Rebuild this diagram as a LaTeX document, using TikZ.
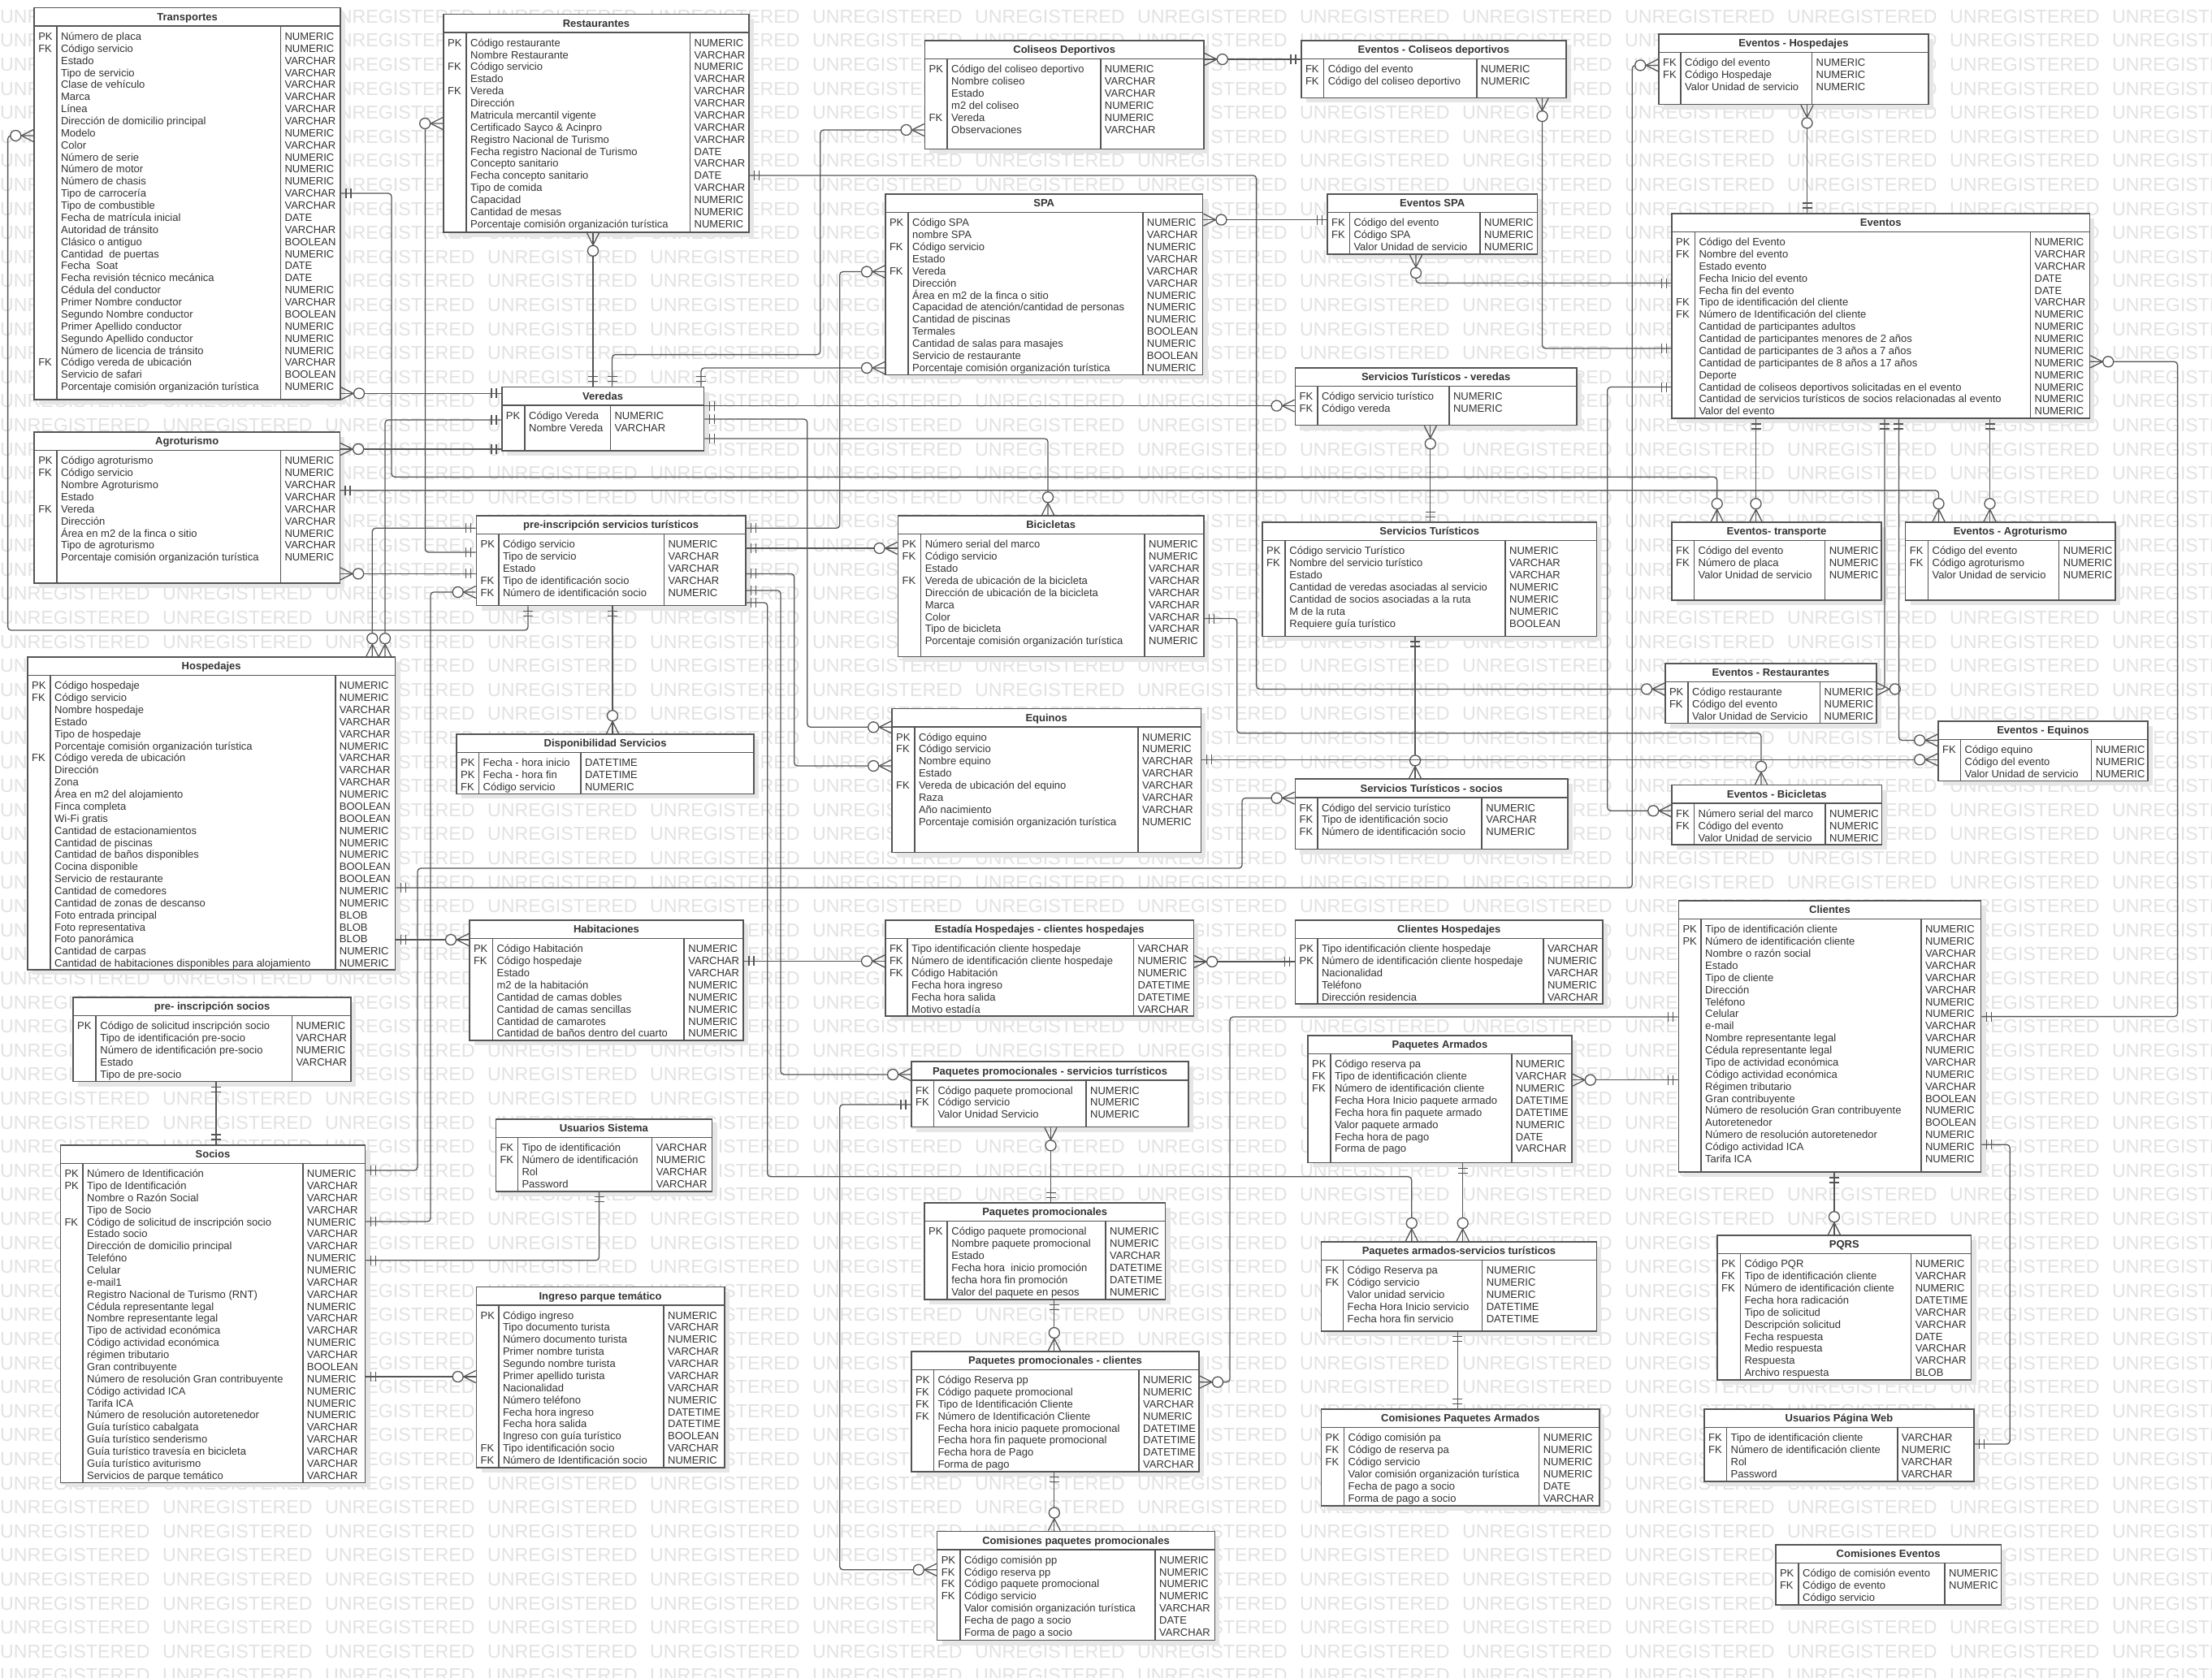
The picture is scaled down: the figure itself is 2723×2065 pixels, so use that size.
\documentclass[tikz,border=0pt]{standalone}
\usepackage{fontspec}
\setmainfont{Liberation Sans}
\usepackage{tikz}
\usetikzlibrary{fit}

\definecolor{erink}{HTML}{333333}
\definecolor{erdraw}{HTML}{555555}
\definecolor{ershade}{HTML}{E6E6E6}
\definecolor{erwater}{HTML}{E2E2E2}

% crow's foot ends
\pgfarrowsdeclare{zmany}{zmany}
{\pgfarrowsleftextend{-30pt}\pgfarrowsrightextend{0pt}}
{%
  \pgfsetdash{}{0pt}\pgfsetroundjoin
  \pgfpathmoveto{\pgfpoint{0pt}{7.5pt}}%
  \pgfpathlineto{\pgfpoint{-15pt}{0pt}}%
  \pgfpathlineto{\pgfpoint{0pt}{-7.5pt}}%
  \pgfusepathqstroke
  \pgfpathcircle{\pgfpoint{-22pt}{0pt}}{6.5pt}%
  \pgfsetfillcolor{white}%
  \pgfusepathqfillstroke
}
\pgfarrowsdeclare{zone}{zone}
{\pgfarrowsleftextend{-13pt}\pgfarrowsrightextend{0pt}}
{%
  \pgfsetdash{}{0pt}\pgfsetbuttcap
  \pgfpathmoveto{\pgfpoint{-6pt}{6pt}}\pgfpathlineto{\pgfpoint{-6pt}{-6pt}}%
  \pgfpathmoveto{\pgfpoint{-12pt}{6pt}}\pgfpathlineto{\pgfpoint{-12pt}{-6pt}}%
  \pgfusepathqstroke
}

\tikzset{
  erbox/.style={draw=erdraw, line width=1.6pt, fill=white, inner sep=0pt},
  erdiv/.style={draw=erdraw, line width=1.6pt},
  ertitle/.style={anchor=base, text=erink, inner sep=0pt, font={\fontsize{13}{15}\selectfont\bfseries}},
  ercell/.style={anchor=base west, text=erink, inner sep=0pt},
  conn/.style={draw=erdraw, line width=1.3pt, rounded corners=4pt},
  wmark/.style={anchor=west, text=erwater, inner sep=0pt, font={\fontsize{23.2}{24}\selectfont}},
}

% #1 name, #2 left, #3 top, #4 right, #5 bottom, #6 key column, #7 type column, #8 title, #9 rows
\newcommand{\erent}[9]{%
  \fill[ershade] ({#2+6},{#3+6}) rectangle ({#4+6},{#5+6});
  \node[erbox, fit={(#2,#3) (#4,#5)}] (#1) {};
  \node[ertitle] at ({(#2+#4)/2},{#3+15.9}) {#8};
  \draw[erdiv] (#2,{#3+22.6}) -- (#4,{#3+22.6});
  \draw[erdiv] (#6,{#3+22.6}) -- (#6,#5);
  \draw[erdiv] (#7,{#3+22.6}) -- (#7,#5);
  \foreach \cK/\cN/\cT [count=\i from 0] in {#9}{%
    \node[ercell] at ({#2+5},{#3+39.8+14.87*\i}) {\cK};
    \node[ercell] at ({#6+5},{#3+39.8+14.87*\i}) {\cN};
    \node[ercell] at ({#7+5},{#3+39.8+14.87*\i}) {\cT};
  }%
}

\begin{document}
\begin{tikzpicture}[x=1pt, y=-1pt, every node/.style={font=\fontsize{13}{15}\selectfont}]
\useasboundingbox (0,0) rectangle (2723,2065);
\fill[white] (0,0) rectangle (2723,2065);
\foreach \r in {0,...,69}{\foreach \c in {0,...,13}{\node[wmark] at ({\c*200},{20.4+\r*29.6}) {UNREGISTERED};}}

%%%%%%%%%%%%%%%%%%%%%%%%%%%%%%%%%%%%%%%%%%%%%%%%%%%%%%%%%%%%%%%%%%%%%%%
\erent{trans}{42.1}{9.6}{419.2}{492}{69.9}{345.4}{Transportes}{
PK/Número de placa/NUMERIC, FK/Código servicio/NUMERIC, /Estado/VARCHAR, /Tipo de servicio/VARCHAR,
/Clase de vehículo/VARCHAR, /Marca/VARCHAR, /Línea/VARCHAR, /Dirección de domicilio principal/VARCHAR,
/Modelo/NUMERIC, /Color/VARCHAR, /Número de serie/NUMERIC, /Número de motor/NUMERIC,
/Número de chasis/NUMERIC, /Tipo de carrocería/VARCHAR, /Tipo de combustible/VARCHAR,
/Fecha de matrícula inicial/DATE, /Autoridad de tránsito/VARCHAR, /Clásico o antiguo/BOOLEAN,
/Cantidad\ \ de puertas/NUMERIC, /Fecha\ \ Soat/DATE, /Fecha revisión técnico mecánica/DATE,
/Cédula del conductor/NUMERIC, /Primer Nombre conductor/VARCHAR, /Segundo Nombre conductor/BOOLEAN,
/Primer Apellido conductor/NUMERIC, /Segundo Apellido conductor/NUMERIC,
/Número de licencia de tránsito/NUMERIC, FK/Código vereda de ubicación/VARCHAR,
/Servicio de safari/BOOLEAN, /Porcentaje comisión organización turística/NUMERIC}
\erent{rest}{546}{17.4}{922}{286}{574}{849.5}{Restaurantes}{
PK/Código restaurante/NUMERIC, /Nombre Restaurante/VARCHAR, FK/Código servicio/NUMERIC, /Estado/VARCHAR,
FK/Vereda/VARCHAR, /Dirección/VARCHAR, /Matricula mercantil vigente/VARCHAR,
/Certificado Sayco \& Acinpro/VARCHAR, /Registro Nacional de Turismo/VARCHAR,
/Fecha registro Nacional de Turismo/DATE, /Concepto sanitario/VARCHAR, /Fecha concepto sanitario/DATE,
/Tipo de comida/VARCHAR, /Capacidad/NUMERIC, /Cantidad de mesas/NUMERIC,
/Porcentaje comisión organización turística/NUMERIC}
\erent{colis}{1138.4}{50}{1482}{183.3}{1166}{1354.7}{Coliseos Deportivos}{
PK/Código del coliseo deportivo/NUMERIC, /Nombre coliseo/VARCHAR, /Estado/VARCHAR,
/m2 del coliseo/NUMERIC, FK/Vereda/NUMERIC, /Observaciones/VARCHAR}
\erent{evcol}{1601.8}{50}{1928}{120.3}{1629.6}{1817.7}{Eventos - Coliseos deportivos}{
FK/Código del evento/NUMERIC, FK/Código del coliseo deportivo/NUMERIC}
\erent{evhos}{2042}{41.7}{2374}{128.6}{2069}{2230.5}{Eventos - Hospedajes}{
FK/Código del evento/NUMERIC, FK/Código Hospedaje/NUMERIC, /Valor Unidad de servicio/NUMERIC}
\erent{spa}{1089.8}{239}{1480.6}{461.3}{1118}{1406.7}{SPA}{
PK/Código SPA/NUMERIC, /nombre SPA/VARCHAR, FK/Código servicio/NUMERIC, /Estado/VARCHAR,
FK/Vereda/VARCHAR, /Dirección/VARCHAR, /Área en m2 de la finca o sitio/NUMERIC,
/{Capacidad de atención/cantidad de personas}/NUMERIC, /Cantidad de piscinas/NUMERIC,
/Termales/BOOLEAN, /Cantidad de salas para masajes/NUMERIC, /Servicio de restaurante/BOOLEAN,
/Porcentaje comisión organización turística/NUMERIC}
\erent{evspa}{1634}{239}{1892.4}{313.2}{1661.3}{1822}{Eventos SPA}{
FK/Código del evento/NUMERIC, FK/Código SPA/NUMERIC, /Valor Unidad de servicio/NUMERIC}
\erent{eventos}{2058}{262.8}{2572.4}{515.2}{2086.3}{2499.4}{Eventos}{
PK/Código del Evento/NUMERIC, FK/Nombre del evento/VARCHAR, /Estado evento/VARCHAR,
/Fecha Inicio del evento/DATE, /Fecha fin del evento/DATE, FK/Tipo de identificación del cliente/VARCHAR,
FK/Número de Identificación del cliente/NUMERIC, /Cantidad de participantes adultos/NUMERIC,
/Cantidad de participantes menores de 2 años/NUMERIC, /Cantidad de participantes de 3 años a 7 años/NUMERIC,
/Cantidad de participantes de 8 años a 17 años/NUMERIC, /Deporte/NUMERIC,
/Cantidad de coliseos deportivos solicitadas en el evento/NUMERIC,
/Cantidad de servicios turísticos de socios relacionadas al evento/NUMERIC, /Valor del evento/NUMERIC}
\erent{veredas}{617.7}{476.5}{866.5}{555.2}{646}{751.4}{Veredas}{
PK/Código Vereda/NUMERIC, /Nombre Vereda/VARCHAR}
\erent{stver}{1594.4}{453}{1941}{523.5}{1621.8}{1783.8}{Servicios Turísticos - veredas}{
FK/Código servicio turístico/NUMERIC, FK/Código vereda/NUMERIC}
\erent{agro}{42.1}{532}{418.3}{717.7}{69.9}{345.4}{Agroturismo}{
PK/Código agroturismo/NUMERIC, FK/Código servicio/NUMERIC, /Nombre Agroturismo/VARCHAR,
/Estado/VARCHAR, FK/Vereda/VARCHAR, /Dirección/VARCHAR, /Área en m2 de la finca o sitio/NUMERIC,
/Tipo de agroturismo/VARCHAR, /Porcentaje comisión organización turística/NUMERIC}
\erent{preserv}{586.5}{635}{917.8}{745.5}{613.8}{817.4}{pre-inscripción servicios turísticos}{
PK/Código servicio/NUMERIC, /Tipo de servicio/VARCHAR, /Estado/VARCHAR,
FK/Tipo de identificación socio/VARCHAR, FK/Número de identificación socio/NUMERIC}
\erent{bici}{1105.4}{635}{1482}{808.5}{1133.6}{1409}{Bicicletas}{
PK/Número serial del marco/NUMERIC, FK/Código servicio/NUMERIC, /Estado/VARCHAR,
FK/Vereda de ubicación de la bicicleta/VARCHAR, /Dirección de ubicación de la bicicleta/VARCHAR,
/Marca/VARCHAR, /Color/VARCHAR, /Tipo de bicicleta/VARCHAR,
/Porcentaje comisión organización turística/NUMERIC}
\erent{serv}{1554}{643}{1965.4}{783.3}{1582.2}{1853}{Servicios Turísticos}{
PK/Código servicio Turístico/NUMERIC, FK/Nombre del servicio turístico/VARCHAR, /Estado/VARCHAR,
/Cantidad de veredas asociadas al servicio/NUMERIC, /Cantidad de socios asociadas a la ruta/NUMERIC,
/M de la ruta/NUMERIC, /Requiere guía turístico/BOOLEAN}
\erent{evtrans}{2058}{643}{2316}{739}{2085.4}{2246.6}{Eventos- transporte}{
FK/Código del evento/NUMERIC, FK/Número de placa/NUMERIC, /Valor Unidad de servicio/NUMERIC}
\erent{evagro}{2345.6}{643}{2604}{739}{2373.4}{2534.6}{Eventos - Agroturismo}{
FK/Código del evento/NUMERIC, FK/Código agroturismo/NUMERIC, /Valor Unidad de servicio/NUMERIC}
\erent{hosp}{33.9}{808.9}{486.5}{1194.2}{62}{412.7}{Hospedajes}{
PK/Código hospedaje/NUMERIC, FK/Código servicio/NUMERIC, /Nombre hospedaje/VARCHAR, /Estado/VARCHAR,
/Tipo de hospedaje/VARCHAR, /Porcentaje comisión organización turística/NUMERIC,
FK/Código vereda de ubicación/VARCHAR, /Dirección/VARCHAR, /Zona/VARCHAR,
/Área en m2 del alojamiento/NUMERIC, /Finca completa/BOOLEAN, /Wi-Fi gratis/BOOLEAN,
/Cantidad de estacionamientos/NUMERIC, /Cantidad de piscinas/NUMERIC,
/Cantidad de baños disponibles/NUMERIC, /Cocina disponible/BOOLEAN, /Servicio de restaurante/BOOLEAN,
/Cantidad de comedores/NUMERIC, /Cantidad de zonas de descanso/NUMERIC, /Foto entrada principal/BLOB,
/Foto representativa/BLOB, /Foto panorámica/BLOB, /Cantidad de carpas/NUMERIC,
/Cantidad de habitaciones disponibles para alojamiento/NUMERIC}
\erent{dispo}{562}{904}{928.2}{977.4}{589.5}{714.9}{Disponibilidad Servicios}{
PK/Fecha - hora inicio/DATETIME, PK/Fecha - hora fin/DATETIME, FK/Código servicio/NUMERIC}
\erent{equinos}{1098}{872.3}{1478.4}{1049.6}{1125.8}{1401}{Equinos}{
PK/Código equino/NUMERIC, FK/Código servicio/NUMERIC, /Nombre equino/VARCHAR, /Estado/VARCHAR,
FK/Vereda de ubicación del equino/VARCHAR, /Raza/VARCHAR, /Año nacimiento/VARCHAR,
/Porcentaje comisión organización turística/NUMERIC}
\erent{evrest}{2049.8}{816.7}{2310}{890.6}{2078}{2240.5}{Eventos - Restaurantes}{
PK/Código restaurante/NUMERIC, FK/Código del evento/NUMERIC, /Valor Unidad de Servicio/NUMERIC}
\erent{evequi}{2386}{888}{2644}{961.4}{2413.4}{2574.6}{Eventos - Equinos}{
FK/Código equino/NUMERIC, /Código del evento/NUMERIC, /Valor Unidad de servicio/NUMERIC}
\erent{stsoc}{1594.4}{959.2}{1930.2}{1045.6}{1621.8}{1824.2}{Servicios Turísticos - socios}{
FK/Código del servicio turístico/NUMERIC, FK/Tipo de identificación socio/VARCHAR,
FK/Número de identificación socio/NUMERIC}
\erent{evbici}{2058}{966.6}{2316.5}{1040}{2085.4}{2247}{Eventos - Bicicletas}{
FK/Número serial del marco/NUMERIC, FK/Código del evento/NUMERIC, /Valor Unidad de servicio/NUMERIC}
\erent{habit}{577.8}{1133}{915.1}{1280.7}{606.4}{842.2}{Habitaciones}{
PK/Código Habitación/NUMERIC, FK/Código hospedaje/VARCHAR, /Estado/VARCHAR, /m2 de la habitación/NUMERIC,
/Cantidad de camas dobles/NUMERIC, /Cantidad de camas sencillas/NUMERIC, /Cantidad de camarotes/NUMERIC,
/Cantidad de baños dentro del cuarto/NUMERIC}
\erent{estadia}{1089.8}{1133}{1469.3}{1251.1}{1117}{1395.4}{Estadía Hospedajes - clientes hospedajes}{
FK/Tipo identificación cliente hospedaje/VARCHAR, FK/Número de identificación cliente hospedaje/NUMERIC,
FK/Código Habitación/NUMERIC, /Fecha hora ingreso/DATETIME, /Fecha hora salida/DATETIME,
/Motivo estadía/VARCHAR}
\erent{clihos}{1594.4}{1133}{1973.2}{1236}{1621.8}{1899.8}{Clientes Hospedajes}{
PK/Tipo identificación cliente hospedaje/VARCHAR, PK/Número de identificación cliente hospedaje/NUMERIC,
/Nacionalidad/VARCHAR, /Teléfono/NUMERIC, /Dirección residencia/VARCHAR}
\erent{clientes}{2066.3}{1109}{2438.6}{1443.2}{2094}{2364.8}{Clientes}{
PK/Tipo de identificación cliente/NUMERIC, PK/Número de identificación cliente/NUMERIC,
/Nombre o razón social/VARCHAR, /Estado/VARCHAR, /Tipo de cliente/VARCHAR, /Dirección/VARCHAR,
/Teléfono/NUMERIC, /Celular/NUMERIC, /e-mail/VARCHAR, /Nombre representante legal/VARCHAR,
/Cédula representante legal/NUMERIC, /Tipo de actividad económica/VARCHAR,
/Código actividad económica/NUMERIC, /Régimen tributario/VARCHAR, /Gran contribuyente/BOOLEAN,
/Número de resolución Gran contribuyente/NUMERIC, /Autoretenedor/BOOLEAN,
/Número de resolución autoretenedor/NUMERIC, /Código actividad ICA/NUMERIC, /Tarifa ICA/NUMERIC}
\erent{presoc}{90}{1228}{432.2}{1331.5}{118.2}{359.3}{pre- inscripción socios}{
PK/Código de solicitud inscripción socio/NUMERIC, /Tipo de identificación pre-socio/VARCHAR,
/Número de identificación pre-socio/NUMERIC, /Estado/VARCHAR, /Tipo de pre-socio/}
\erent{paqarm}{1610}{1275}{1935}{1431.4}{1637.8}{1860.7}{Paquetes Armados}{
PK/Código reserva pa/NUMERIC, FK/Tipo de identificación cliente/VARCHAR,
FK/Número de identificación cliente/NUMERIC, /Fecha Hora Inicio paquete armado/DATETIME,
/Fecha hora fin paquete armado/DATETIME, /Valor paquete armado/NUMERIC, /Fecha hora de pago/DATE,
/Forma de pago/VARCHAR}
\erent{ppserv}{1121.9}{1307.2}{1463.2}{1387.6}{1149.3}{1337}{Paquetes promocionales - servicios turrísticos}{
FK/Código paquete promocional/NUMERIC, FK/Código servicio/NUMERIC, /Valor Unidad Servicio/NUMERIC}
\erent{ususis}{610.3}{1378}{876.5}{1467}{637.3}{802.6}{Usuarios Sistema}{
FK/Tipo de identificación/VARCHAR, FK/Número de identificación/NUMERIC, /Rol/VARCHAR, /Password/VARCHAR}
\erent{socios}{74.3}{1409.7}{449.6}{1825.4}{102}{372.7}{Socios}{
PK/Número de Identificación/NUMERIC, PK/Tipo de Identificación/VARCHAR, /Nombre o Razón Social/VARCHAR,
/Tipo de Socio/VARCHAR, FK/Código de solicitud de inscripción socio/NUMERIC, /Estado socio/VARCHAR,
/Dirección de domicilio principal/VARCHAR, /Telefóno/NUMERIC, /Celular/NUMERIC, /e-mail1/VARCHAR,
/Registro Nacional de Turismo (RNT)/VARCHAR, /Cédula representante legal/NUMERIC,
/Nombre representante legal/VARCHAR, /Tipo de actividad económica/VARCHAR,
/Código actividad económica/NUMERIC, /régimen tributario/VARCHAR, /Gran contribuyente/BOOLEAN,
/Número de resolución Gran contribuyente/NUMERIC, /Código actividad ICA/NUMERIC, /Tarifa ICA/NUMERIC,
/Número de resolución autoretenedor/NUMERIC, /Guía turístico cabalgata/VARCHAR,
/Guía turístico senderismo/VARCHAR, /Guía turístico travesía en bicicleta/VARCHAR,
/Guía turístico aviturismo/VARCHAR, /Servicios de parque temático/VARCHAR}
\erent{paqpro}{1138}{1481}{1434.5}{1600}{1166.2}{1361}{Paquetes promocionales}{
PK/Código paquete promocional/NUMERIC, /Nombre paquete promocional/NUMERIC, /Estado/VARCHAR,
/Fecha hora\ \ inicio promoción/DATETIME, /fecha hora fin promoción/DATETIME,
/Valor del paquete en pesos/NUMERIC}
\erent{pastur}{1626.5}{1528.7}{1965.4}{1639}{1653.5}{1824.6}{Paquetes armados-servicios turísticos}{
FK/Código Reserva pa/NUMERIC, FK/Código servicio/NUMERIC, /Valor unidad servicio/NUMERIC,
/Fecha Hora Inicio servicio/DATETIME, /Fecha hora fin servicio/DATETIME}
\erent{pqrs}{2114}{1521}{2426.5}{1699}{2142.3}{2352.6}{PQRS}{
PK/Código PQR/NUMERIC, FK/Tipo de identificación cliente/VARCHAR, FK/Número de identificación cliente/NUMERIC,
/Fecha hora radicación/DATETIME, /Tipo de solicitud/VARCHAR, /Descripción solicitud/VARCHAR,
/Fecha respuesta/DATE, /Medio respuesta/VARCHAR, /Respuesta/VARCHAR, /Archivo respuesta/BLOB}
\erent{ingreso}{586.5}{1584.3}{891.7}{1807.2}{613.8}{817}{Ingreso parque temático}{
PK/Código ingreso/NUMERIC, /Tipo documento turista/VARCHAR, /Número documento turista/NUMERIC,
/Primer nombre turista/VARCHAR, /Segundo nombre turista/VARCHAR, /Primer apellido turista/VARCHAR,
/Nacionalidad/VARCHAR, /Número teléfono/NUMERIC, /Fecha hora ingreso/DATETIME,
/Fecha hora salida/DATETIME, /Ingreso con guía turístico/BOOLEAN, FK/Tipo identificación socio/VARCHAR,
FK/Número de Identificación socio/NUMERIC}
\erent{ppcli}{1121.9}{1663.8}{1476.2}{1812}{1149.3}{1402}{Paquetes promocionales - clientes}{
PK/Código Reserva pp/NUMERIC, FK/Código paquete promocional/NUMERIC,
FK/Tipo de Identificación Cliente/VARCHAR, FK/Número de Identificación Cliente/NUMERIC,
/Fecha hora inicio paquete promocional/DATETIME, /Fecha hora fin paquete promocional/DATETIME,
/Fecha hora de Pago/DATETIME, /Forma de pago/VARCHAR}
\erent{compa}{1626.5}{1735}{1968.9}{1853.7}{1654.4}{1894.6}{Comisiones Paquetes Armados}{
PK/Código comisión pa/NUMERIC, FK/Código de reserva pa/NUMERIC, FK/Código servicio/NUMERIC,
/Valor comisión organización turística/NUMERIC, /Fecha de pago a socio/DATE,
/Forma de pago a socio/VARCHAR}
\erent{usuweb}{2098}{1735}{2430}{1823.7}{2125.4}{2335.7}{Usuarios Página Web}{
FK/Tipo de identificación cliente/VARCHAR, FK/Número de identificación cliente/NUMERIC,
/Rol/VARCHAR, /Password/VARCHAR}
\erent{compp}{1153.6}{1885.4}{1495.4}{2019.6}{1181.9}{1422}{Comisiones paquetes promocionales}{
PK/Código comisión pp/NUMERIC, FK/Código reserva pp/NUMERIC, FK/Código paquete promocional/NUMERIC,
FK/Código servicio/NUMERIC, /Valor comisión organización turística/VARCHAR,
/Fecha de pago a socio/DATE, /Forma de pago a socio/VARCHAR}
\erent{comev}{2185.8}{1902}{2463.4}{1976.2}{2214}{2393.9}{Comisiones Eventos}{
PK/Código de comisión evento/NUMERIC, FK/Código de evento/NUMERIC, /Código servicio/}

%%%%%%%%%%%%%%%%%%%%%%%%%%%%%%%%%%%%%%%%%%%%%%%%%%%%%%%%%%%%%%%%%%%%%%%
\draw[conn, zmany-zone] (trans.west |- 0,167) -| (9.6,776) -| (preserv.south -| 650,0);
\draw[conn, zone-zmany] (trans.east |- 0,238) -| (482,587.3) -| (evtrans.north -| 2113.7,0);
\draw[conn, zmany-zone] (trans.east |- 0,484.4) -- (veredas.west |- 0,484.4);
\draw[conn, zone-zmany] (veredas.west |- 0,517) -| (hosp.north -| 474,0);
\draw[conn, zmany-zone] (agro.east |- 0,553) -- (veredas.west |- 0,553);
\draw[conn, zone-zmany] (agro.east |- 0,603.8) -| (evagro.north -| 2386.5,0);
\draw[conn, zmany-zone] (agro.east |- 0,706.4) -- (preserv.west |- 0,706.4);
\draw[conn, zone-zmany] (preserv.west |- 0,650.3) -| (hosp.north -| 458.3,0);
\draw[conn, zmany-zone] (rest.west |- 0,152) -| (523.5,680) -- (preserv.west |- 0,680);
\draw[conn, zmany-zone] (preserv.west |- 0,729) -| (530,1504) -- (socios.east |- 0,1504);
\draw[conn, zmany-zone] (stsoc.west |- 0,982.6) -| (1529,1069) -| (514,1441) -- (socios.east |- 0,1441);
\draw[conn, zmany-zone] (evhos.west |- 0,80.4) -| (2009.3,1093) -- (hosp.east |- 0,1093);
\draw[conn, zone-zmany] (hosp.east |- 0,1157) -- (habit.west |- 0,1157);
\draw[conn, zone-zmany] (rest.east |- 0,216) -| (1546.6,848.4) -- (evrest.west |- 0,848.4);
\draw[conn, zmany-zone] (colis.west |- 0,160) -| (1009.8,436.6) -| (veredas.north -| 753.5,0);
\draw[conn, zmany-zone] (rest.south -| 730,0) -- (veredas.north -| 730,0);
\draw[conn, zmany-zone] (spa.west |- 0,334.5) -| (1033.7,650.3) -- (preserv.east |- 0,650.3);
\draw[conn, zmany-zone] (spa.west |- 0,453) -| (veredas.north -| 863,0);
\draw[conn, zone-zmany] (veredas.east |- 0,499.6) -- (stver.west |- 0,499.6);
\draw[conn, zone-zmany] (veredas.east |- 0,516) -| (993.8,895.3) -- (equinos.west |- 0,895.3);
\draw[conn, zone-zmany] (veredas.east |- 0,540) -| (bici.north -| 1290,0);
\draw[conn, zone-zmany] (preserv.east |- 0,675) -- (bici.west |- 0,675);
\draw[conn, zone-zmany] (preserv.east |- 0,706.4) -| (977.7,943) -- (equinos.west |- 0,943);
\draw[conn, zone-zmany] (preserv.east |- 0,727) -| (961,1323) -- (ppserv.west |- 0,1323);
\draw[conn, zone-zmany] (preserv.east |- 0,742) -| (944.7,1448.8) -| (pastur.north -| 1737.8,0);
\draw[conn, zone-zmany] (preserv.south -| 754,0) -- (dispo.north -| 754,0);
\draw[conn, zone-zmany] (ppserv.west |- 0,1360) -| (1033.7,1932.7) -- (compp.west |- 0,1932.7);
\draw[conn, zone-zmany] (habit.east |- 0,1183.4) -- (estadia.west |- 0,1183.4);
\draw[conn, zmany-zone] (estadia.east |- 0,1184) -- (clihos.west |- 0,1184);
\draw[conn, zone-zmany] (serv.south -| 1742,0) -- (stsoc.north -| 1742,0);
\draw[conn, zmany-zone] (stver.south -| 1760.8,0) -- (serv.north -| 1760.8,0);
\draw[conn, zone-zmany] (bici.east |- 0,761.5) -| (1522.7,902.7) -| (evbici.north -| 2168,0);
\draw[conn, zone-zmany] (equinos.east |- 0,935.3) -- (evequi.west |- 0,935.3);
\draw[conn, zone-zmany] (eventos.west |- 0,476.5) -| (1978.8,998.3) -- (evbici.west |- 0,998.3);
\draw[conn, zmany-zone] (evcol.south -| 1898.5,0) |- (eventos.west |- 0,429);
\draw[conn, zmany-zone] (evspa.south -| 1743,0) |- (eventos.west |- 0,348.5);
\draw[conn, zmany-zone] (colis.east |- 0,73) -- (evcol.west |- 0,73);
\draw[conn, zmany-zone] (spa.east |- 0,270.6) -- (evspa.west |- 0,270.6);
\draw[conn, zmany-zone] (evhos.south -| 2224.5,0) -- (eventos.north -| 2224.5,0);
\draw[conn, zmany-zone] (eventos.east |- 0,445.3) -| (2680.6,1251.6) -- (clientes.east |- 0,1251.6);
\draw[conn, zone-zmany] (eventos.south -| 2161.5,0) -- (evtrans.north -| 2161.5,0);
\draw[conn, zone-zmany] (eventos.south -| 2449.5,0) -- (evagro.north -| 2449.5,0);
\draw[conn, zone-zmany] (eventos.south -| 2320,0) |- (evrest.east |- 0,848.4);
\draw[conn, zone-zmany] (eventos.south -| 2337.4,0) |- (evequi.west |- 0,911.4);
\draw[conn, zmany-zone] (paqarm.east |- 0,1329.7) -- (clientes.west |- 0,1329.7);
\draw[conn, zmany-zone] (ppcli.east |- 0,1701.6) -| (1514,1252) -- (clientes.west |- 0,1252);
\draw[conn, zone-zmany] (clientes.south -| 2257.9,0) -- (pqrs.north -| 2257.9,0);
\draw[conn, zone-zone] (clientes.east |- 0,1409.3) -| (2474.2,1778) -- (usuweb.east |- 0,1778);
\draw[conn, zone-zmany] (paqarm.south -| 1800.7,0) -- (pastur.north -| 1800.7,0);
\draw[conn, zone-zone] (pastur.south -| 1794.2,0) -- (compa.north -| 1794.2,0);
\draw[conn, zmany-zone] (ppserv.south -| 1293.5,0) -- (paqpro.north -| 1293.5,0);
\draw[conn, zone-zmany] (paqpro.south -| 1297.8,0) -- (ppcli.north -| 1297.8,0);
\draw[conn, zone-zmany] (ppcli.south -| 1297.8,0) -- (compp.north -| 1297.8,0);
\draw[conn, zone-zone] (socios.east |- 0,1551.8) -| (ususis.south -| 737.5,0);
\draw[conn, zone-zmany] (socios.east |- 0,1695) -- (ingreso.west |- 0,1695);
\draw[conn, zone-zone] (presoc.south -| 265.9,0) -- (socios.north -| 265.9,0);
\end{tikzpicture}
\end{document}
